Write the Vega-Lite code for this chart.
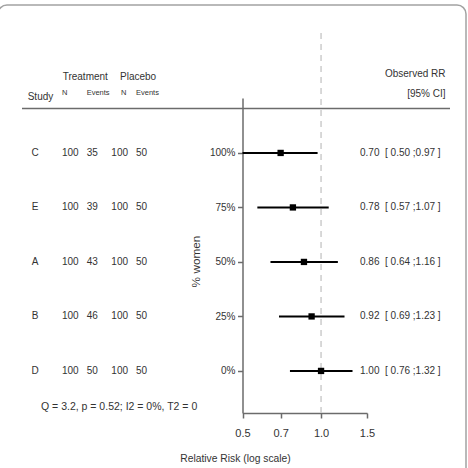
{
  "$schema": "https://vega.github.io/schema/vega-lite/v6.json",
  "width": 468,
  "height": 472,
  "autosize": "none",
  "padding": {"left": -2, "top": 5, "right": 2, "bottom": 0},
  "config": {
    "font": "Liberation Sans",
    "view": {"stroke": "#a3a3a3", "strokeWidth": 1.5, "cornerRadius": 9},
    "text": {"font": "Liberation Sans", "fontSize": 10, "color": "#333333"},
    "axis": {
      "labelFont": "Liberation Sans",
      "titleFont": "Liberation Sans",
      "domainColor": "#6b6b6b",
      "tickColor": "#6b6b6b",
      "labelColor": "#333333",
      "titleColor": "#333333",
      "titleFontWeight": "normal",
      "grid": false
    }
  },
  "datasets": {
    "studies": [
      {"study": "C", "women": 100, "tN": 100, "tE": 35, "pN": 100, "pE": 50, "rr": 0.70, "lo": 0.50, "hi": 0.97},
      {"study": "E", "women": 75, "tN": 100, "tE": 39, "pN": 100, "pE": 50, "rr": 0.78, "lo": 0.57, "hi": 1.07},
      {"study": "A", "women": 50, "tN": 100, "tE": 43, "pN": 100, "pE": 50, "rr": 0.86, "lo": 0.64, "hi": 1.16},
      {"study": "B", "women": 25, "tN": 100, "tE": 46, "pN": 100, "pE": 50, "rr": 0.92, "lo": 0.69, "hi": 1.23},
      {"study": "D", "women": 0, "tN": 100, "tE": 50, "pN": 100, "pE": 50, "rr": 1.00, "lo": 0.76, "hi": 1.32}
    ],
    "headings": [
      {"text": "Study", "col": "study", "line": "lower"},
      {"text": "Treatment", "col": "tN", "line": "upper"},
      {"text": "Placebo", "col": "pN", "line": "upper"},
      {"text": "N", "col": "tN", "line": "lower"},
      {"text": "Events", "col": "tE", "line": "lower"},
      {"text": "N", "col": "pN", "line": "lower"},
      {"text": "Events", "col": "pE", "line": "lower"},
      {"text": "Observed RR", "col": "hdr", "line": "upper"},
      {"text": "[95% CI]", "col": "hdr", "line": "lower"}
    ],
    "summary": [{"text": "Q = 3.2, p = 0.52; I2 = 0%, T2 = 0"}],
    "noEffect": [{"rr": 1}]
  },
  "layer": [
    {
      "layer": [
        {
          "data": {"name": "studies"},
          "mark": {"type": "rule", "color": "#000000", "strokeWidth": 2},
          "encoding": {
            "x": {
              "field": "lo", "type": "quantitative",
              "scale": {"type": "log", "domain": [0.5, 1.5], "range": [244.5, 369], "nice": false},
              "axis": {
                "orient": "bottom", "offset": -64, "values": [0.5, 0.7, 1, 1.5], "format": ".1f",
                "tickSize": 5, "tickWidth": 1.5, "domainWidth": 1.5,
                "labelPadding": 9, "labelFontSize": 11, "labelFlush": false, "labelOverlap": false,
                "title": "Relative Risk (log scale)", "titleFontSize": 10.3,
                "titleX": 237, "titleY": 45, "titleAlign": "center", "titleBaseline": "middle"
              }
            },
            "x2": {"field": "hi"},
            "y": {
              "field": "women", "type": "quantitative",
              "scale": {"type": "linear", "domain": [-19.3, 125.2], "range": [408, 93], "nice": false, "zero": false},
              "axis": {
                "orient": "left", "offset": -244.5, "values": [0, 25, 50, 75, 100],
                "labelExpr": "datum.value + '%'",
                "tickSize": 5, "tickWidth": 1.5, "domainWidth": 1.5,
                "labelPadding": 2.5, "labelFontSize": 10,
                "title": "% women", "titleFontSize": 11.8, "titleAngle": -90,
                "titleX": -47.5, "titleY": 256, "titleAlign": "center", "titleBaseline": "middle"
              }
            }
          }
        },
        {
          "data": {"name": "noEffect"},
          "mark": {"type": "rule", "strokeDash": [6, 5], "color": "#cccccc", "strokeWidth": 1.5},
          "encoding": {
            "x": {"field": "rr", "type": "quantitative"},
            "y": {"datum": -19.3, "type": "quantitative"},
            "y2": {"datum": 157}
          }
        },
        {
          "data": {"name": "studies"},
          "mark": {"type": "point", "shape": "square", "filled": true, "size": 40, "color": "#000000", "opacity": 1},
          "encoding": {
            "x": {"field": "rr", "type": "quantitative"},
            "y": {"field": "women", "type": "quantitative"}
          }
        }
      ]
    },
    {
      "data": {"name": "studies"},
      "layer": [
        {
          "mark": {"type": "text", "align": "center", "baseline": "middle", "dx": -2.3},
          "encoding": {
            "x": {"datum": "study", "type": "nominal", "scale": {"type": "point", "domain": ["study", "tN", "tE", "pN", "pE"], "range": [39.3, 138], "padding": 0}, "axis": null},
            "y": {"field": "women", "type": "quantitative", "scale": {"type": "linear", "domain": [-19.3, 125.2], "range": [408, 93], "nice": false, "zero": false}, "axis": null},
            "text": {"field": "study", "type": "nominal"}
          }
        },
        {
          "transform": [{"fold": ["tN", "tE", "pN", "pE"], "as": ["col", "n"]}],
          "mark": {"type": "text", "align": "left", "baseline": "middle"},
          "encoding": {
            "x": {"field": "col", "type": "nominal"},
            "y": {"field": "women", "type": "quantitative"},
            "text": {"field": "n", "type": "nominal"}
          }
        }
      ]
    },
    {
      "data": {"name": "studies"},
      "transform": [
        {"calculate": "format(datum.rr, '.2f') + '\u00a0\u00a0[ ' + format(datum.lo, '.2f') + ' ;' + format(datum.hi, '.2f') + ' ]'", "as": "ci"}
      ],
      "mark": {"type": "text", "align": "left", "baseline": "middle"},
      "encoding": {
        "x": {"datum": "rr", "type": "nominal", "scale": {"type": "point", "domain": ["rr", "hdr"], "range": [362, 449], "padding": 0}, "axis": null},
        "y": {"field": "women", "type": "quantitative", "scale": {"type": "linear", "domain": [-19.3, 125.2], "range": [408, 93], "nice": false, "zero": false}, "axis": null},
        "text": {"field": "ci", "type": "nominal"}
      }
    },
    {
      "data": {"name": "headings"},
      "encoding": {
        "x": {"field": "col", "type": "nominal", "scale": {"type": "point", "domain": ["study", "tN", "tE", "pN", "pE"], "range": [39.3, 138], "padding": 0}, "axis": null},
        "y": {"field": "line", "type": "nominal", "scale": {"type": "point", "domain": ["upper", "lower"], "range": [75, 95], "padding": 0}, "axis": null},
        "text": {"field": "text", "type": "nominal"}
      },
      "layer": [
        {
          "transform": [{"filter": "datum.text === 'Study'"}],
          "mark": {"type": "text", "align": "left", "baseline": "alphabetic", "dx": -9.6}
        },
        {
          "transform": [{"filter": "datum.text === 'Treatment'"}],
          "mark": {"type": "text", "align": "left", "baseline": "alphabetic", "dx": 0.7}
        },
        {
          "transform": [{"filter": "datum.text === 'Placebo'"}],
          "mark": {"type": "text", "align": "left", "baseline": "alphabetic", "dx": 8.7}
        },
        {
          "transform": [{"filter": "(datum.text === 'N' || datum.text === 'Events') && datum.col !== 'pN'"}],
          "mark": {"type": "text", "align": "left", "baseline": "alphabetic", "fontSize": 7.5, "dy": -5}
        },
        {
          "transform": [{"filter": "datum.text === 'N' && datum.col === 'pN'"}],
          "mark": {"type": "text", "align": "left", "baseline": "alphabetic", "fontSize": 7.5, "dy": -5, "dx": 9.7}
        }
      ]
    },
    {
      "data": {"name": "headings"},
      "transform": [{"filter": "datum.col === 'hdr'"}],
      "mark": {"type": "text", "align": "right", "baseline": "alphabetic", "dx": -1.5, "dy": -3.5},
      "encoding": {
        "x": {"field": "col", "type": "nominal", "scale": {"type": "point", "domain": ["rr", "hdr"], "range": [362, 449], "padding": 0}, "axis": null},
        "y": {"field": "line", "type": "nominal", "scale": {"type": "point", "domain": ["upper", "lower"], "range": [75, 95], "padding": 0}, "axis": null},
        "text": {"field": "text", "type": "nominal"}
      }
    },
    {
      "data": {"name": "summary"},
      "layer": [
        {
          "mark": {"type": "rule", "color": "#6b6b6b", "strokeWidth": 1.5},
          "encoding": {
            "x": {"datum": "start", "type": "nominal", "scale": {"type": "point", "domain": ["start", "end"], "range": [24, 452], "padding": 0}, "axis": null},
            "x2": {"datum": "end"},
            "y": {"datum": "sep", "type": "nominal", "scale": {"type": "point", "domain": ["sep", "foot"], "range": [103.5, 401.7], "padding": 0}, "axis": null}
          }
        },
        {
          "mark": {"type": "text", "align": "left", "baseline": "middle", "dx": 19, "fontSize": 10.5},
          "encoding": {
            "x": {"datum": "start", "type": "nominal"},
            "y": {"datum": "foot", "type": "nominal"},
            "text": {"field": "text", "type": "nominal"}
          }
        }
      ]
    }
  ],
  "resolve": {
    "scale": {"x": "independent", "y": "independent"},
    "axis": {"x": "independent", "y": "independent"}
  }
}
